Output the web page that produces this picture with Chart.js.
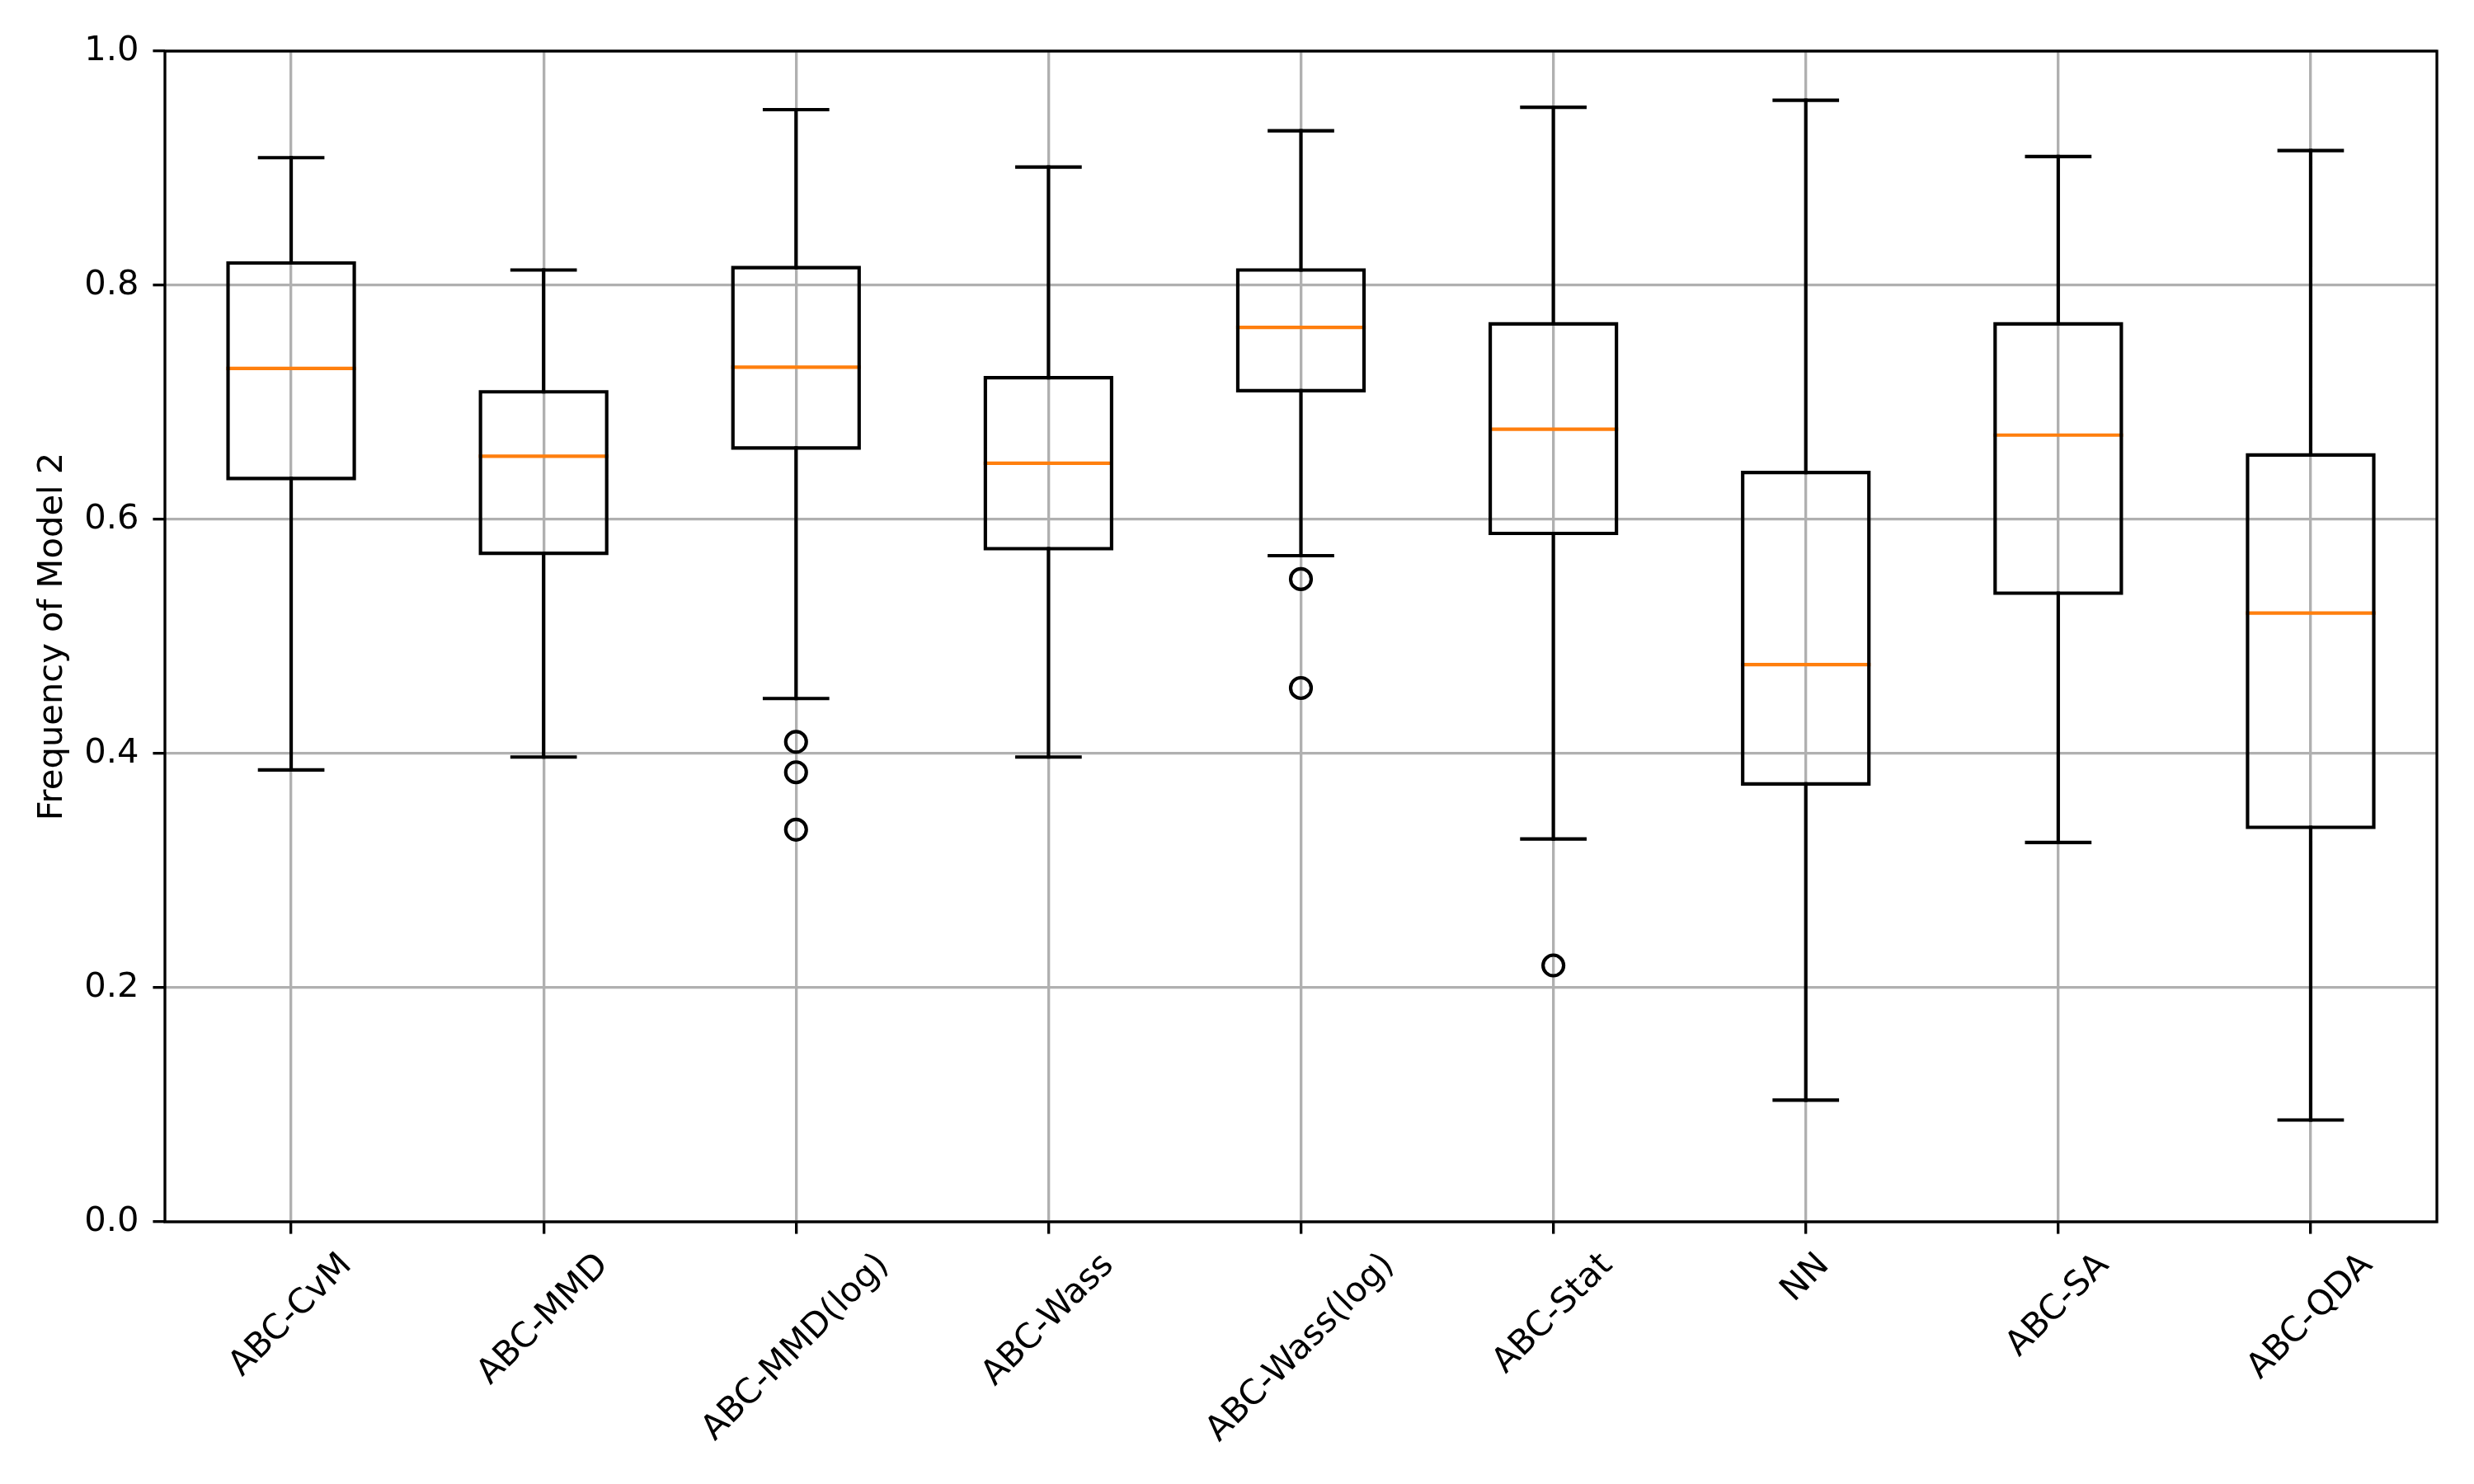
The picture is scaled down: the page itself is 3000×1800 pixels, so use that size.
<!DOCTYPE html>
<html>
<head>
<meta charset="utf-8">
<script src="https://cdn.jsdelivr.net/npm/chart.js@4.4.1/dist/chart.umd.min.js"></script>
<style>
  html, body { margin: 0; padding: 0; background: #fff; }
  canvas { display: block; }
</style>
</head>
<body>
<canvas id="chart" width="3000" height="1800"></canvas>
<script>
// --- Données ---
const categories = ["ABC-CvM", "ABC-MMD", "ABC-MMD(log)", "ABC-Wass", "ABC-Wass(log)", "ABC-Stat", "NN", "ABC-SA", "ABC-QDA"];
const whiskerHigh = [0.909, 0.813, 0.950, 0.901, 0.932, 0.952, 0.958, 0.910, 0.915];
const q3 = [0.819, 0.709, 0.815, 0.721, 0.813, 0.767, 0.640, 0.767, 0.655];
const median = [0.729, 0.654, 0.730, 0.648, 0.764, 0.677, 0.476, 0.672, 0.520];
const q1 = [0.635, 0.571, 0.661, 0.575, 0.710, 0.588, 0.374, 0.537, 0.337];
const whiskerLow = [0.386, 0.397, 0.447, 0.397, 0.569, 0.327, 0.104, 0.324, 0.087];
const outliers = [[], [], [0.410, 0.384, 0.335], [], [0.549, 0.456], [0.219], [], [], []];
const yTicks = [0.0, 0.2, 0.4, 0.6, 0.8, 1.0];

// --- Style (façon matplotlib, 300 dpi) ---
const PT = 300 / 72;
const FONT = "'DejaVu Sans', sans-serif";
const FONT_SIZE = 10 * PT;
const LINE_W = 1 * PT;
const AXIS_W = 0.8 * PT;
const TICK_LEN = 3.5 * PT;
const HALF_BOX = 0.25;
const HALF_CAP = 0.125;

const boxData = categories.flatMap((c, i) => {
  const x = i + 1;
  return [
    { x, y: q1[i] }, { x: x + HALF_BOX, y: q1[i] }, { x: x + HALF_BOX, y: q3[i] },
    { x: x - HALF_BOX, y: q3[i] }, { x: x - HALF_BOX, y: q1[i] }, { x, y: q1[i] },
    { x, y: null },
  ];
});
const whiskerData = categories.flatMap((c, i) => {
  const x = i + 1;
  return [
    { x, y: q1[i] }, { x, y: whiskerLow[i] }, { x, y: null },
    { x, y: q3[i] }, { x, y: whiskerHigh[i] }, { x, y: null },
  ];
});
const capData = categories.flatMap((c, i) => {
  const x = i + 1;
  return [
    { x: x - HALF_CAP, y: whiskerLow[i] }, { x: x + HALF_CAP, y: whiskerLow[i] }, { x, y: null },
    { x: x - HALF_CAP, y: whiskerHigh[i] }, { x: x + HALF_CAP, y: whiskerHigh[i] }, { x, y: null },
  ];
});
const medianData = categories.flatMap((c, i) => {
  const x = i + 1;
  return [{ x: x - HALF_BOX, y: median[i] }, { x: x + HALF_BOX, y: median[i] }, { x, y: null }];
});
const outlierData = outliers.flatMap((list, i) => list.map((v) => ({ x: i + 1, y: v })));

const lineStyle = {
  showLine: true,
  borderWidth: LINE_W,
  pointRadius: 0,
  pointHoverRadius: 0,
  tension: 0,
  spanGaps: false,
  borderJoinStyle: "miter",
  borderCapStyle: "square",
};

// cadre + étiquettes inclinées centrées (comme ha="center" de matplotlib)
const framePlugin = {
  id: "frame",
  afterDraw(chart) {
    const { ctx, chartArea: a, scales } = chart;
    ctx.save();
    ctx.strokeStyle = "#000";
    ctx.lineWidth = AXIS_W;
    ctx.lineJoin = "miter";
    ctx.strokeRect(a.left, a.top, a.right - a.left, a.bottom - a.top);

    ctx.font = `${FONT_SIZE}px ${FONT}`;
    ctx.fillStyle = "#000";
    ctx.textAlign = "center";
    ctx.textBaseline = "middle";
    const top = a.bottom + TICK_LEN + 3.5 * PT;
    const h = FONT_SIZE * 1.17;
    categories.forEach((label, i) => {
      const x = scales.x.getPixelForValue(i + 1);
      const w = ctx.measureText(label).width;
      const H = (w + h) * Math.SQRT1_2;
      ctx.save();
      ctx.translate(x, top + H / 2);
      ctx.rotate(-Math.PI / 4);
      ctx.fillText(label, 0, 0);
      ctx.restore();
    });
    ctx.restore();
  },
};

new Chart(document.getElementById("chart"), {
  type: "scatter",
  data: {
    datasets: [
      { ...lineStyle, label: "box", data: boxData, borderColor: "#000" },
      { ...lineStyle, label: "whiskers", data: whiskerData, borderColor: "#000" },
      { ...lineStyle, label: "caps", data: capData, borderColor: "#000" },
      { ...lineStyle, label: "median", data: medianData, borderColor: "#ff7f0e" },
      {
        label: "outliers",
        data: outlierData,
        showLine: false,
        pointStyle: "circle",
        pointRadius: 3 * PT,
        pointHoverRadius: 3 * PT,
        pointBorderWidth: LINE_W,
        pointBorderColor: "#000",
        pointBackgroundColor: "rgba(0,0,0,0)",
      },
    ],
  },
  options: {
    responsive: false,
    devicePixelRatio: 1,
    animation: false,
    layout: { padding: { top: 62, right: 45, left: 0, bottom: 0 } },
    plugins: { legend: { display: false }, tooltip: { enabled: false } },
    scales: {
      x: {
        type: "linear",
        min: 0.5,
        max: 9.5,
        afterBuildTicks: (axis) => { axis.ticks = categories.map((c, i) => ({ value: i + 1 })); },
        afterFit: (axis) => { axis.height = 318; },
        border: { display: false },
        grid: { color: "#b0b0b0", lineWidth: AXIS_W, tickColor: "#000", tickWidth: AXIS_W, tickLength: TICK_LEN },
        ticks: { display: false },
      },
      y: {
        type: "linear",
        min: 0,
        max: 1,
        afterBuildTicks: (axis) => { axis.ticks = yTicks.map((v) => ({ value: v })); },
        afterFit: (axis) => { axis.width = 200; },
        border: { display: false },
        grid: { color: "#b0b0b0", lineWidth: AXIS_W, tickColor: "#000", tickWidth: AXIS_W, tickLength: TICK_LEN },
        ticks: {
          color: "#000",
          padding: 17,
          font: { family: FONT, size: FONT_SIZE },
          callback: (v) => Number(v).toFixed(1),
        },
        title: {
          display: true,
          text: "Frequency of Model 2",
          color: "#000",
          font: { family: FONT, size: FONT_SIZE },
          padding: { top: 39, bottom: 0 },
        },
      },
    },
  },
  plugins: [framePlugin],
});
</script>
</body>
</html>
